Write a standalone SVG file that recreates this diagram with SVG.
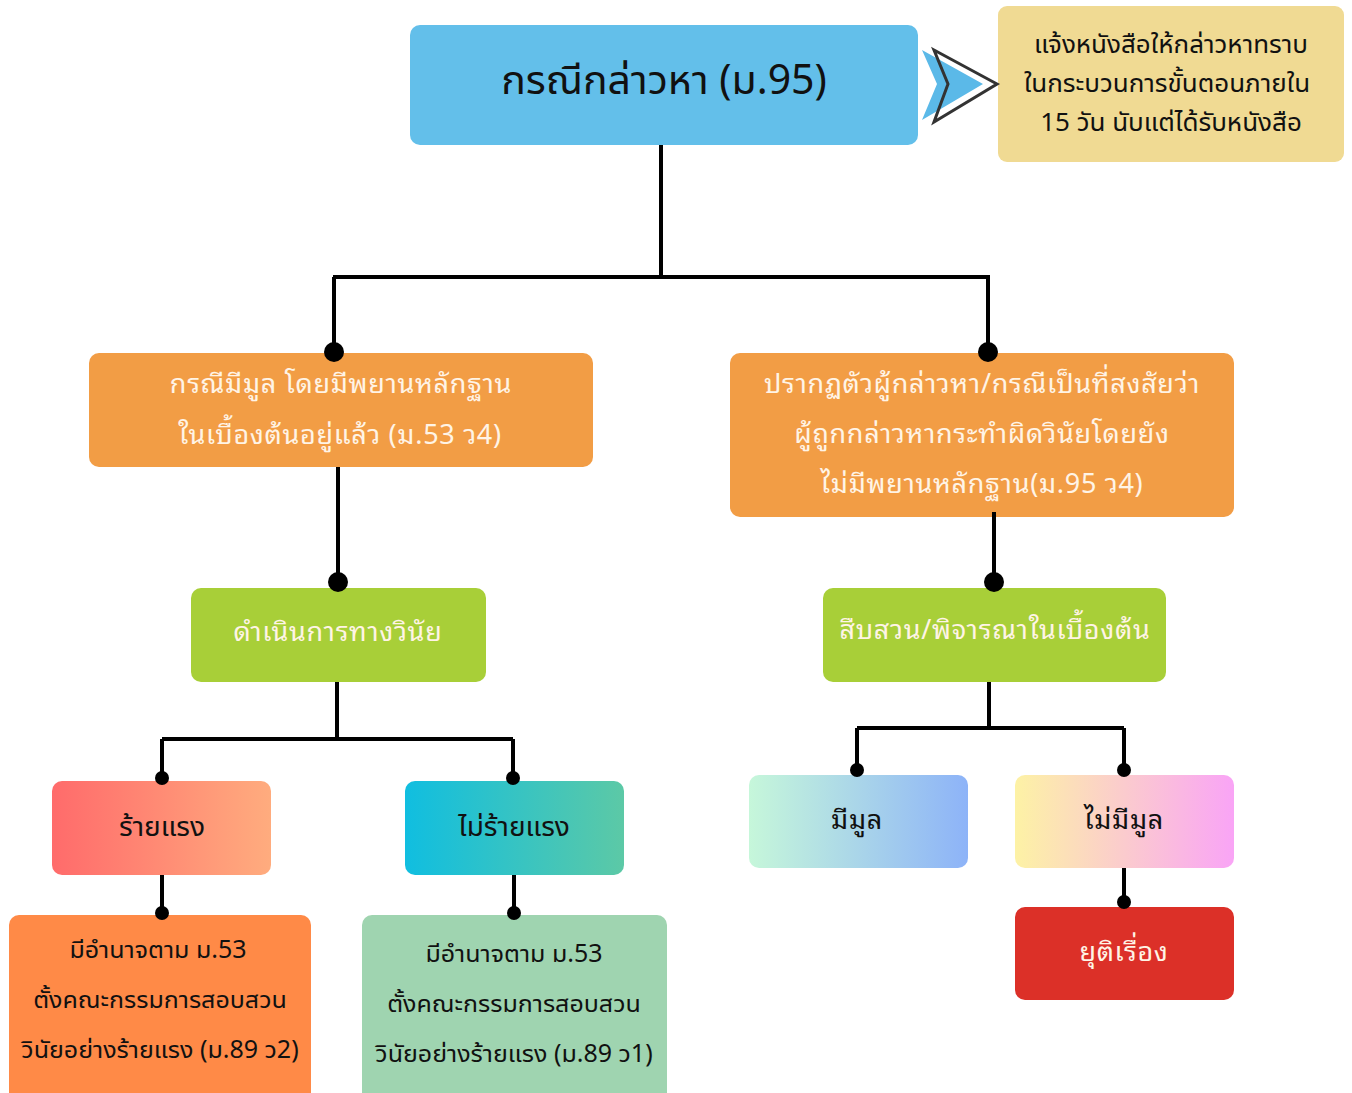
<svg xmlns="http://www.w3.org/2000/svg" width="1352" height="1093" viewBox="0 0 1352 1093">
<style>
.t{font-family:"Noto Sans Thai Looped","Noto Sans Thai","Noto Sans","DejaVu Sans",sans-serif;text-anchor:middle;letter-spacing:0.7px}
.c{font-family:"Noto Sans Thai UI","Noto Sans Thai","Noto Sans","Liberation Sans",sans-serif;text-anchor:middle;fill:#111}
.w{fill:#FFF4E6;font-size:27px}
.k{font-size:25px}
.ln{stroke:#000;stroke-width:4;fill:none}
</style>
<defs>
<linearGradient id="g1" x1="0" x2="1" y1="0" y2="0"><stop offset="0" stop-color="#FF6B6B"/><stop offset="1" stop-color="#FFAC7E"/></linearGradient>
<linearGradient id="g2" x1="0" x2="1" y1="0" y2="0"><stop offset="0" stop-color="#10BEE0"/><stop offset="1" stop-color="#5CC9A6"/></linearGradient>
<linearGradient id="g3" x1="0" x2="1" y1="0" y2="0"><stop offset="0" stop-color="#C6F7DA"/><stop offset="1" stop-color="#8DB3F8"/></linearGradient>
<linearGradient id="g4" x1="0" x2="1" y1="0" y2="0"><stop offset="0" stop-color="#FDF2A5"/><stop offset="1" stop-color="#F9A4F6"/></linearGradient>
</defs>
<rect width="1352" height="1093" fill="#fff"/>
<g id="n-main">
<rect x="410" y="25" width="508" height="120" rx="10" fill="#63BFEA"/>
<text class="c" x="664" y="94" font-size="41">กรณีกล่าวหา (ม.95)</text>
</g>
<g id="n-notice">
<rect x="998" y="6" width="346" height="156" rx="9" fill="#F0DA93"/>
<text class="c" x="1171" y="53" font-size="26">แจ้งหนังสือให้กล่าวหาทราบ</text>
<text class="c" x="1167" y="92" font-size="26">ในกระบวนการขั้นตอนภายใน</text>
<text class="c" x="1171" y="131" font-size="26">15 วัน นับแต่ได้รับหนังสือ</text>
</g>
<g id="n-left">
<rect x="89" y="353" width="504" height="114" rx="10" fill="#F29D45"/>
<text class="t w" x="341" y="393">กรณีมีมูล โดยมีพยานหลักฐาน</text>
<text class="t w" x="340" y="444">ในเบื้องต้นอยู่แล้ว (ม.53 ว4)</text>
</g>
<g id="n-right">
<rect x="730" y="353" width="504" height="164" rx="10" fill="#F29D45"/>
<text class="t w" x="982" y="393">ปรากฏตัวผู้กล่าวหา/กรณีเป็นที่สงสัยว่า</text>
<text class="t w" x="982" y="443">ผู้ถูกกล่าวหากระทำผิดวินัยโดยยัง</text>
<text class="t w" x="982" y="493">ไม่มีพยานหลักฐาน(ม.95 ว4)</text>
</g>
<g id="n-action">
<rect x="191" y="588" width="295" height="94" rx="10" fill="#A8CF38"/>
<text class="t w" x="338" y="641">ดำเนินการทางวินัย</text>
</g>
<g id="n-inquiry">
<rect x="823" y="588" width="343" height="94" rx="10" fill="#A8CF38"/>
<text class="t w" x="995" y="639">สืบสวน/พิจารณาในเบื้องต้น</text>
</g>
<g id="n-severe">
<rect x="52" y="781" width="219" height="94" rx="10" fill="url(#g1)"/>
<text class="c" x="162" y="836" font-size="28">ร้ายแรง</text>
</g>
<g id="n-notsevere">
<rect x="405" y="781" width="219" height="94" rx="10" fill="url(#g2)"/>
<text class="c" x="514" y="836" font-size="28">ไม่ร้ายแรง</text>
</g>
<g id="n-severe-detail">
<rect x="9" y="915" width="302" height="190" rx="10" fill="#FF8A47"/>
<text class="c k" x="158" y="958">มีอำนาจตาม ม.53</text>
<text class="c k" x="160" y="1008">ตั้งคณะกรรมการสอบสวน</text>
<text class="c k" x="160" y="1058">วินัยอย่างร้ายแรง (ม.89 ว2)</text>
</g>
<g id="n-notsevere-detail">
<rect x="362" y="915" width="305" height="190" rx="10" fill="#9FD4B0"/>
<text class="c k" x="514" y="962">มีอำนาจตาม ม.53</text>
<text class="c k" x="514" y="1012">ตั้งคณะกรรมการสอบสวน</text>
<text class="c k" x="514" y="1062">วินัยอย่างร้ายแรง (ม.89 ว1)</text>
</g>
<g id="n-grounds">
<rect x="749" y="775" width="219" height="93" rx="10" fill="url(#g3)"/>
<text class="t" x="857" y="829" font-size="27" fill="#111">มีมูล</text>
</g>
<g id="n-nogrounds">
<rect x="1015" y="775" width="219" height="93" rx="10" fill="url(#g4)"/>
<text class="t" x="1124" y="829" font-size="27" fill="#111">ไม่มีมูล</text>
</g>
<g id="n-end">
<rect x="1015" y="907" width="219" height="93" rx="10" fill="#DC3028"/>
<text class="t w" x="1124" y="961">ยุติเรื่อง</text>
</g>
<g id="connectors">
<path class="ln" d="M661 145V277M333 277H990M334 277V352M988 277V352"/>
<path class="ln" d="M338 467V582M994 512V582"/>
<path class="ln" d="M337 682V739M162 739H513M162 739V778M513 739V778"/>
<path class="ln" d="M989 682V728M857 728H1124M857 728V770M1124 728V770"/>
<path class="ln" d="M162 875V913M514 875V913M1124 868V902"/>
<g fill="#000">
<circle cx="334" cy="352" r="10"/><circle cx="988" cy="352" r="10"/>
<circle cx="338" cy="582" r="10"/><circle cx="994" cy="582" r="10"/>
<circle cx="162" cy="778" r="7"/><circle cx="513" cy="778" r="7"/>
<circle cx="857" cy="770" r="7"/><circle cx="1124" cy="770" r="7"/>
<circle cx="162" cy="913" r="7"/><circle cx="514" cy="913" r="7"/>
<circle cx="1124" cy="902" r="7"/>
</g>
<polygon points="922,50 983,84 922,120 937,84" fill="#5BB9E8"/>
<polygon points="934,50 997,84 934,122 948,84" fill="none" stroke="#333" stroke-width="3" stroke-linejoin="miter"/>
</g>
</svg>
